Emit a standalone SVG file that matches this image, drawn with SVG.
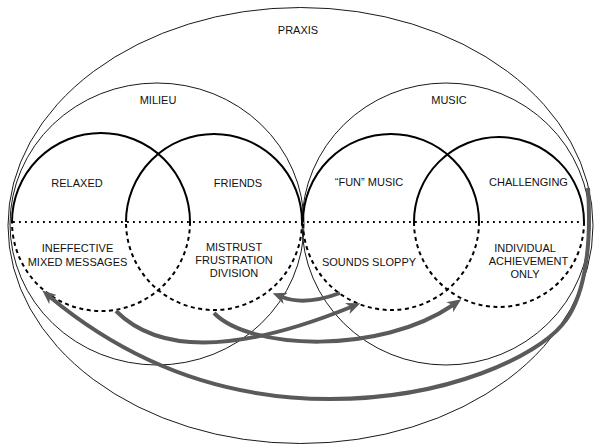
<svg xmlns="http://www.w3.org/2000/svg" width="596" height="445" viewBox="0 0 596 445">
  <defs>
    <style>
      .thin { fill: none; stroke: #000; stroke-width: 0.9; }
      .solid { fill: none; stroke: #000; stroke-width: 2; }
      .dash { fill: none; stroke: #000; stroke-width: 2; stroke-dasharray: 4 3.5; }
      .dots { fill: none; stroke: #000; stroke-width: 1.8; stroke-dasharray: 1.8 4.2; }
      .lbl { font-family: "Liberation Sans", Arial, sans-serif; font-size: 11px; fill: #111; text-anchor: middle; }
      .flow { fill: none; stroke: #5a5a5a; stroke-width: 4; marker-end: url(#head); }
    </style>
    <marker id="head" viewBox="0 0 14 12" markerWidth="14" markerHeight="12" refX="4" refY="6" orient="auto" markerUnits="userSpaceOnUse">
      <path d="M0,0 L14,6 L0,12 L4,6 z" fill="#5a5a5a"/>
    </marker>
  </defs>

  <!-- outer domains -->
  <g id="praxis">
    <ellipse class="thin" cx="300.5" cy="225.5" rx="292.5" ry="218"/>
    <text class="lbl" x="298" y="34">PRAXIS</text>
  </g>
  <g id="milieu">
    <ellipse class="thin" cx="157" cy="224" rx="147" ry="141"/>
    <text class="lbl" x="158" y="104">MILIEU</text>
  </g>
  <g id="music">
    <ellipse class="thin" cx="446" cy="224" rx="144" ry="141"/>
    <text class="lbl" x="449" y="104">MUSIC</text>
  </g>

  <!-- split line between positive (top) and negative (bottom) halves -->
  <line class="dots" x1="13" y1="222" x2="585" y2="222"/>

  <!-- four inner qualities: solid upper half, dashed lower half -->
  <g id="relaxed">
    <path class="solid" d="M12 222 A89 89 0 0 1 190 222"/>
    <path class="dash" d="M190 222 A89 89 0 0 1 12 222"/>
    <text class="lbl" x="77" y="187">RELAXED</text>
    <text class="lbl" x="77.5" y="252">INEFFECTIVE</text>
    <text class="lbl" x="77.5" y="266">MIXED MESSAGES</text>
  </g>
  <g id="friends">
    <path class="solid" d="M126 222 A88 88 0 0 1 302 222"/>
    <path class="dash" d="M302 222 A88 88 0 0 1 126 222"/>
    <text class="lbl" x="238" y="187">FRIENDS</text>
    <text class="lbl" x="234" y="251">MISTRUST</text>
    <text class="lbl" x="234" y="264">FRUSTRATION</text>
    <text class="lbl" x="234" y="277">DIVISION</text>
  </g>
  <g id="fun-music">
    <path class="solid" d="M303 222 A88 88 0 0 1 479 222"/>
    <path class="dash" d="M479 222 A88 88 0 0 1 303 222"/>
    <text class="lbl" x="369" y="186">“FUN” MUSIC</text>
    <text class="lbl" x="369" y="266">SOUNDS SLOPPY</text>
  </g>
  <g id="challenging">
    <path class="solid" d="M414 222 A85 85 0 0 1 584 222"/>
    <path class="dash" d="M584 222 A85 85 0 0 1 414 222"/>
    <text class="lbl" x="528.5" y="186">CHALLENGING</text>
    <text class="lbl" x="525" y="252">INDIVIDUAL</text>
    <text class="lbl" x="528.5" y="265">ACHIEVEMENT</text>
    <text class="lbl" x="525" y="278">ONLY</text>
  </g>

  <!-- connectors -->
  <g id="connectors">
    <path class="flow" d="M588 188 C592 250 584 300 562 325 C537 355 450 399 330 399 C210 399 120 355 50 297"/>
    <path class="flow" d="M340 293 Q305 306 282 297"/>
    <path class="flow" d="M116 311 C160 355 240 352 351 307"/>
    <path class="flow" d="M214 313 C250 350 380 355 453 305"/>
  </g>
</svg>
